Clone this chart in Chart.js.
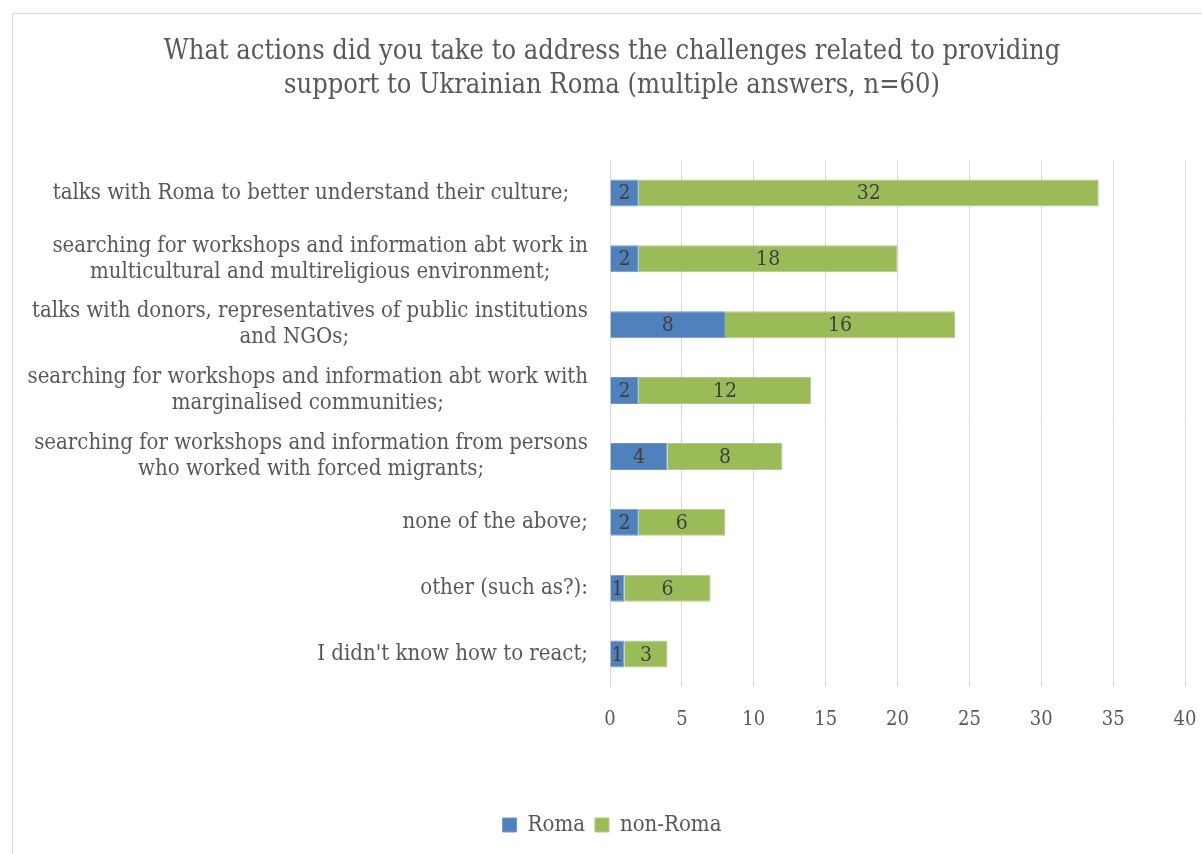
<!DOCTYPE html>
<html>
<head>
<meta charset="utf-8">
<script src="https://cdn.jsdelivr.net/npm/chart.js@4.4.1/dist/chart.umd.min.js"></script>
<style>
  html, body { margin: 0; padding: 0; background: #ffffff; overflow: hidden; }
  #wrap { position: relative; width: 1202px; height: 854px; }
  #frame { position: absolute; left: 12px; top: 13px; width: 1300px; height: 1000px;
           border: 1px solid #d9d9d9; box-sizing: border-box; }
  canvas { position: absolute; left: 0; top: 0; }
</style>
</head>
<body>
<div id="wrap">
  <div id="frame"></div>
  <canvas id="chart" width="1202" height="854"></canvas>
</div>
<script>
const FONT = '"DejaVu Serif Condensed", "Liberation Serif", serif';

const titleLines = [
  'What actions did you take to address the challenges related to providing',
  'support to Ukrainian Roma (multiple answers, n=60)'
];

// answer texts as entered in the survey sheet (some carry trailing spaces)
const categories = [
  ['talks with Roma to better understand their culture;   '],
  ['searching for workshops and information abt work in', 'multicultural and multireligious environment;'],
  ['talks with donors, representatives of public institutions', 'and NGOs;     '],
  ['searching for workshops and information abt work with', 'marginalised communities;'],
  ['searching for workshops and information from persons', 'who worked with forced migrants;'],
  ['none of the above;'],
  ['other (such as?):'],
  ["I didn't know how to react;"]
];

const romaValues    = [2, 2, 8, 2, 4, 2, 1, 1];
const nonRomaValues = [32, 18, 16, 12, 8, 6, 6, 3];

const seriesNames = ['Roma', 'non-Roma'];
const xTicks = [0, 5, 10, 15, 20, 25, 30, 35, 40];

// value labels centred inside every bar segment
const segmentLabels = {
  id: 'segmentLabels',
  afterDatasetsDraw(chart) {
    const ctx = chart.ctx;
    ctx.save();
    ctx.font = '21px ' + FONT;
    ctx.fillStyle = '#404040';
    ctx.textAlign = 'center';
    ctx.textBaseline = 'middle';
    chart.data.datasets.forEach((ds, di) => {
      chart.getDatasetMeta(di).data.forEach((bar, i) => {
        const v = ds.data[i];
        const cx = (bar.x + bar.base) / 2;
        ctx.fillText(String(v), cx, bar.y + 1);
      });
    });
    ctx.restore();
  }
};

// category labels: each label block right-aligned to the axis, lines centred within the block
const categoryLabels = {
  id: 'categoryLabels',
  afterDraw(chart) {
    const ctx = chart.ctx;
    const yScale = chart.scales.y;
    const right = chart.chartArea.left - 22;
    const lh = 26;
    ctx.save();
    ctx.font = '22px ' + FONT;
    ctx.fillStyle = '#595959';
    ctx.textAlign = 'center';
    ctx.textBaseline = 'middle';
    categories.forEach((lines, i) => {
      const y = yScale.getPixelForTick(i);
      const w = Math.max(...lines.map(l => ctx.measureText(l).width));
      const cx = right - w / 2;
      const y0 = y - (lines.length - 1) * lh / 2;
      lines.forEach((l, k) => ctx.fillText(l, cx, y0 + k * lh));
    });
    ctx.restore();
  }
};

new Chart(document.getElementById('chart'), {
  type: 'bar',
  data: {
    labels: categories,
    datasets: [
      { label: seriesNames[0], data: romaValues, backgroundColor: '#4f81bd',
        borderColor: '#6f98c9', borderWidth: 1 },
      { label: seriesNames[1], data: nonRomaValues, backgroundColor: '#9bbb59',
        borderColor: '#b3cc7f', borderWidth: 1 }
    ]
  },
  options: {
    indexAxis: 'y',
    responsive: false,
    animation: false,
    devicePixelRatio: 1,
    barPercentage: 0.41,
    categoryPercentage: 1,
    layout: { padding: { left: 39, right: 17, top: 0, bottom: 8 } },
    scales: {
      x: {
        stacked: true,
        min: 0, max: 40,
        afterBuildTicks(scale) { scale.ticks = xTicks.map(v => ({ value: v })); },
        afterFit(scale) {
          scale.height = 117;
          scale.paddingLeft = 0;
          scale.paddingRight = 0;
        },
        grid: { color: '#d9d9d9', lineWidth: 1, drawTicks: false },
        border: { display: false },
        ticks: { color: '#595959', padding: 21, font: { family: FONT, size: 20 } }
      },
      y: {
        stacked: true,
        afterFit(scale) { scale.width = 571; },
        grid: { display: false },
        border: { display: false },
        ticks: { display: false }
      }
    },
    plugins: {
      title: {
        display: true,
        text: titleLines,
        color: '#595959',
        font: { family: FONT, size: 27, weight: 'normal', lineHeight: 34 / 27 },
        padding: { top: 35, bottom: 57 }
      },
      legend: {
        position: 'bottom',
        labels: {
          color: '#595959',
          font: { family: FONT, size: 22 },
          boxWidth: 14, boxHeight: 14,
          padding: 10
        }
      },
      tooltip: { enabled: false }
    }
  },
  plugins: [segmentLabels, categoryLabels]
});
</script>
</body>
</html>
